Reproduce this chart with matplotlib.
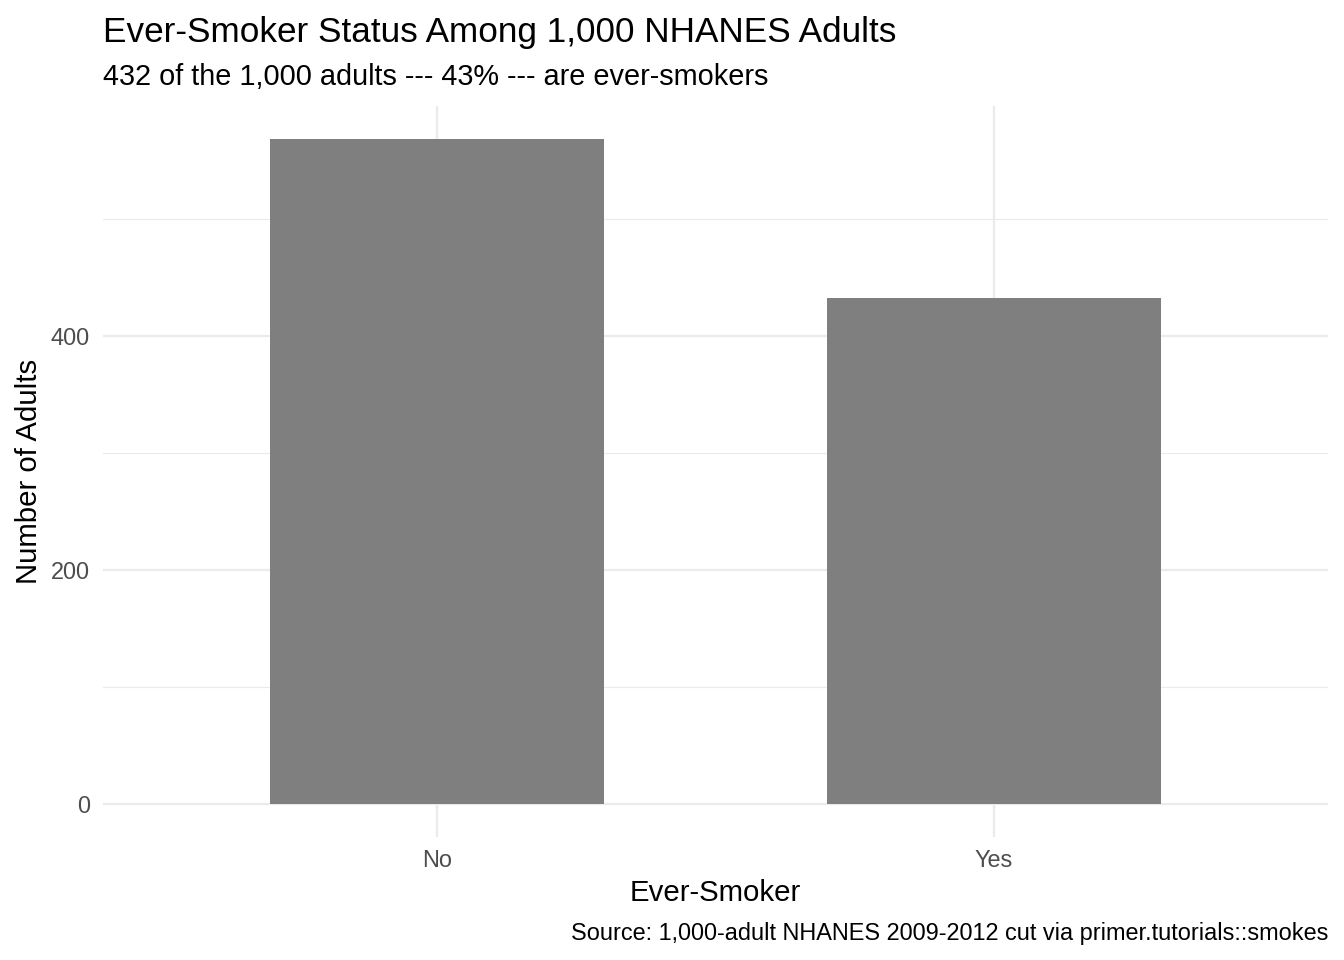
import matplotlib
matplotlib.use("Agg")
import matplotlib.pyplot as plt
from matplotlib.ticker import MultipleLocator

categories = ["No", "Yes"]
counts = [568, 432]
y_ticks = [0, 200, 400]
title = "Ever-Smoker Status Among 1,000 NHANES Adults"
subtitle = "432 of the 1,000 adults --- 43% --- are ever-smokers"
caption = "Source: 1,000-adult NHANES 2009-2012 cut via primer.tutorials::smokes"

plt.rcParams['font.family'] = ['Liberation Sans', 'DejaVu Sans']

W, H = 1344, 960
dpi = 192
fig = plt.figure(figsize=(W / dpi, H / dpi), dpi=dpi)
L, R, T, B = 103, 1328, 106, 837
ax = fig.add_axes([L / W, 1 - B / H, (R - L) / W, (B - T) / H])

x = list(range(1, len(categories) + 1))
ax.bar(x, counts, width=0.6, color="#7f7f7f", zorder=2)
ymax = max(counts)
ax.set_ylim(-0.05 * ymax, 1.05 * ymax)
ax.set_xlim(0.4, len(categories) + 0.6)

grid_col = "#ebebeb"
major_lw = 0.85
ax.set_yticks(y_ticks)
ax.yaxis.set_minor_locator(MultipleLocator(100))
ax.set_xticks(x)
ax.set_xticklabels(categories)
ax.grid(which="major", axis="both", color=grid_col, linewidth=major_lw, zorder=0)
ax.grid(which="minor", axis="y", color=grid_col, linewidth=major_lw / 2, zorder=0)
ax.tick_params(which="both", length=0)
ax.tick_params(axis="both", labelsize=8.8, labelcolor="#4d4d4d")
ax.tick_params(axis="x", pad=4.4)
ax.tick_params(axis="y", pad=5)
for s in ax.spines.values():
    s.set_visible(False)
ax.set_axisbelow(True)

ax.set_xlabel("Ever-Smoker", fontsize=11, labelpad=2.6)
ax.set_ylabel("Number of Adults", fontsize=11, labelpad=2.8)

fig.text(L / W, 1 - 42 / H, title, fontsize=13.2, ha="left", va="baseline")
fig.text(L / W, 1 - 85 / H, subtitle, fontsize=10.85, ha="left", va="baseline")
fig.text(R / W, 1 - 940 / H, caption, fontsize=8.8, ha="right", va="baseline")

fig.savefig("out.png", dpi=dpi)
